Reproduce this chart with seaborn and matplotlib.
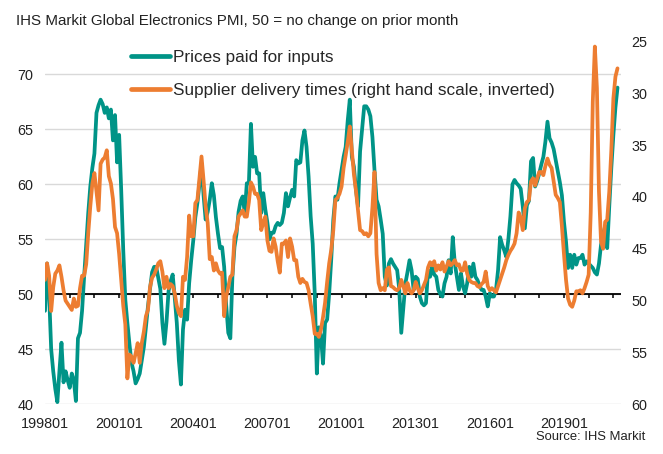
import numpy as np
import pandas as pd
import matplotlib
matplotlib.use("Agg")
import matplotlib.pyplot as plt
import seaborn as sns
from matplotlib.lines import Line2D

# monthly index readings, Jan 1998 .. Mar 2021
prices_paid = [
    48.5, 52.8, 50.0, 45.0, 43.0, 41.4, 40.2, 43.0, 45.6, 42.0, 43.0, 42.2,  # 1998
    41.5, 42.8, 42.2, 40.3, 46.0, 46.5, 48.5, 51.6, 54.5, 57.4, 59.8, 61.5,  # 1999
    62.8, 66.5, 67.2, 67.7, 67.3, 66.5, 67.0, 66.0, 66.8, 64.0, 66.3, 62.0,  # 2000
    64.5, 59.5, 54.0, 49.5, 47.4, 45.5, 43.8, 43.0, 41.9, 42.3, 42.8, 44.0,  # 2001
    45.2, 47.0, 48.9, 50.5, 52.0, 52.5, 52.5, 51.5, 50.5, 47.4, 45.5, 47.5,  # 2002
    50.3, 51.2, 51.8, 49.7, 47.4, 44.0, 41.8, 46.8, 48.6, 47.7, 51.0, 53.1,  # 2003
    54.9, 57.0, 58.3, 60.0, 61.9, 59.0, 56.8, 57.5, 58.6, 60.1, 59.0, 57.0,  # 2004
    55.5, 54.2, 54.3, 52.5, 49.0, 46.5, 46.0, 51.6, 54.3, 55.5, 57.5, 58.5,  # 2005
    58.9, 57.4, 60.1, 60.1, 65.5, 61.6, 62.5, 61.0, 61.0, 57.4, 59.2, 57.7,  # 2006
    56.5, 55.0, 55.6, 55.6, 56.2, 56.5, 56.3, 56.5, 57.4, 59.2, 58.0, 58.8,  # 2007
    59.5, 58.9, 62.2, 61.9, 62.0, 64.0, 64.9, 63.4, 60.7, 57.1, 54.6, 50.0,  # 2008
    42.8, 47.0, 46.2, 43.7, 47.4, 47.7, 50.1, 53.2, 56.8, 58.9, 58.6, 60.1,  # 2009
    61.3, 62.5, 63.4, 65.8, 67.7, 62.5, 61.6, 59.5, 58.0, 63.0, 65.1, 67.1,  # 2010
    67.1, 66.8, 66.2, 64.3, 61.3, 58.6, 58.0, 56.8, 55.5, 51.6, 50.8, 52.8,  # 2011
    53.2, 52.8, 52.5, 52.2, 50.5, 46.5, 48.8, 51.0, 52.0, 53.1, 52.2, 50.4,  # 2012
    51.6, 51.4, 49.8, 49.2, 49.0, 49.2, 52.2, 51.6, 52.5, 51.8, 51.6, 50.4,  # 2013
    50.0, 49.8, 51.0, 51.6, 53.1, 51.9, 55.2, 52.8, 51.6, 50.4, 51.9, 50.7,  # 2014
    50.1, 51.0, 52.5, 51.6, 52.8, 51.6, 51.3, 50.8, 50.4, 50.4, 49.8, 48.9,  # 2015
    50.1, 49.8, 49.8, 50.4, 52.2, 55.2, 54.5, 54.0, 53.4, 55.0, 57.1, 60.0,  # 2016
    60.4, 60.1, 59.9, 59.6, 58.0, 56.0, 58.1, 58.5, 62.1, 62.4, 59.8, 60.3,  # 2017
    61.0, 61.8, 62.5, 63.9, 65.7, 64.2, 63.8, 63.2, 62.2, 61.2, 60.2, 59.0,  # 2018
    56.6, 54.8, 52.4, 53.6, 52.4, 53.6, 52.7, 53.3, 53.3, 53.6, 52.7, 53.0,  # 2019
    52.8, 52.6, 52.4, 52.0, 51.8, 52.8, 54.5, 55.4, 56.2, 54.2, 58.0, 61.5,  # 2020
    64.5, 67.0, 68.8,                                                        # 2021
]

delivery_times = [
    48.0, 46.4, 47.6, 51.0, 48.7, 47.4, 47.1, 46.6, 47.7, 49.0, 50.0, 50.3,  # 1998
    50.6, 50.9, 49.8, 50.6, 50.5, 48.8, 47.6, 47.6, 46.5, 43.5, 40.9, 38.7,  # 1999
    37.7, 39.5, 41.3, 36.8, 36.4, 36.2, 35.5, 38.0, 38.7, 40.2, 42.9, 43.5,  # 2000
    45.5, 48.0, 50.5, 52.3, 57.5, 55.2, 55.4, 56.0, 55.1, 54.1, 56.0, 54.1,  # 2001
    53.0, 51.5, 50.9, 48.7, 47.8, 47.5, 47.0, 46.4, 46.2, 47.2, 48.8, 47.7,  # 2002
    48.8, 48.4, 48.6, 49.3, 50.5, 51.2, 51.5, 47.7, 48.0, 45.8, 41.8, 43.8,  # 2003
    43.8, 40.6, 40.3, 38.2, 36.1, 38.4, 40.9, 42.5, 46.0, 45.8, 47.1, 46.4,  # 2004
    47.1, 47.4, 47.3, 51.5, 49.6, 48.7, 47.7, 47.5, 43.8, 43.2, 41.9, 41.6,  # 2005
    41.3, 41.9, 41.9, 40.5, 38.6, 39.0, 39.7, 39.7, 40.3, 43.2, 42.5, 41.9,  # 2006
    44.2, 45.2, 45.3, 44.0, 44.8, 46.2, 47.3, 44.5, 44.5, 44.2, 45.8, 44.0,  # 2007
    44.8, 46.1, 46.1, 47.7, 48.3, 47.9, 48.2, 48.3, 49.0, 50.3, 51.5, 53.2,  # 2008
    53.2, 53.5, 52.8, 51.6, 50.2, 48.2, 46.4, 45.1, 43.2, 40.3, 40.1, 39.7,  # 2009
    39.0, 37.2, 36.0, 34.7, 33.2, 35.5, 37.8, 39.4, 41.3, 43.2, 43.3, 43.6,  # 2010
    43.5, 43.8, 43.5, 41.0, 37.6, 45.5, 48.3, 49.0, 48.8, 49.0, 47.0, 46.8,  # 2011
    48.6, 48.7, 48.9, 49.0, 48.8, 48.0, 48.6, 49.3, 48.3, 49.0, 49.3, 49.0,  # 2012
    48.2, 48.8, 49.3, 49.0, 48.5, 48.0, 46.8, 46.3, 46.6, 46.2, 47.1, 46.6,  # 2013
    47.0, 46.3, 47.2, 46.7, 46.2, 46.6, 46.4, 46.1, 46.6, 46.5, 47.1, 47.1,  # 2014
    46.3, 47.4, 48.0, 48.2, 48.3, 48.3, 48.6, 48.7, 48.4, 48.2, 47.2, 48.6,  # 2015
    49.0, 48.8, 49.0, 49.2, 48.6, 48.0, 47.4, 46.8, 46.1, 45.6, 45.2, 44.9,  # 2016
    44.5, 43.5, 41.5, 42.0, 43.2, 41.1, 40.5, 40.3, 38.5, 38.2, 38.9, 38.2,  # 2017
    37.6, 37.6, 37.9, 37.0, 36.3, 36.9, 37.2, 38.5, 39.8, 40.1, 40.5, 42.8,  # 2018
    45.5, 48.0, 49.8, 50.4, 50.6, 50.0, 49.1, 49.1, 49.0, 49.3, 48.8, 48.2,  # 2019
    47.5, 41.5, 30.8, 25.5, 29.5, 39.5, 44.3, 45.0, 42.4, 42.2, 39.5, 35.5,  # 2020
    30.5, 28.4, 27.6,                                                        # 2021
]

months = list(pd.date_range("1998-01-01", periods=len(prices_paid), freq="MS").strftime("%Y%m"))
tick_labels = ["199801", "200101", "200401", "200701", "201001", "201301", "201601", "201901"]
series_labels = ["Prices paid for inputs", "Supplier delivery times (right hand scale, inverted)"]

df = pd.DataFrame({"idx": np.arange(len(months)), "month": months,
                   "prices": prices_paid, "delivery": delivery_times})

sns.set_theme(style="white")
plt.rcParams["font.family"] = ["Liberation Sans", "DejaVu Sans"]

teal = "#009487"
orange = "#ED7D31"
W, H = 663, 454

fig = plt.figure(figsize=(W / 100, H / 100), dpi=100)
ax = fig.add_axes([45 / W, 1 - 404.3 / H, 576 / W, 362.9 / H])

# left axis: grid + zero-change line with yearly ticks
ax.set_xlim(0, 279.7)
ax.set_ylim(40, 73)
ax.set_yticks(range(40, 71, 5))
ax.yaxis.grid(True, color="#d9d9d9", lw=1)
ax.set_axisbelow(True)
for s in ax.spines.values():
    s.set_visible(False)
ax.axhline(50, color="black", lw=1.3, zorder=2)
ax.vlines(np.arange(12, len(months), 12), 49.7, 50, color="black", lw=1.1, zorder=2)

sns.lineplot(data=df, x="idx", y="prices", ax=ax, color=teal, lw=2.7, legend=False, zorder=3)

ax.set_xticks([months.index(t) for t in tick_labels])
ax.set_xticklabels(tick_labels)
ax.tick_params(axis="x", length=0, pad=9, labelsize=10.4, colors="#222222")
ax.tick_params(axis="y", length=0, pad=8.5, labelsize=10.4, colors="#222222")
ax.set_xlabel("")
ax.set_ylabel("")

# right axis, inverted
ax2 = ax.twinx()
sns.lineplot(data=df, x="idx", y="delivery", ax=ax2, color=orange, lw=2.7, legend=False)
ax2.set_ylim(60, 25)
ax2.set_yticks(range(25, 61, 5))
ax2.tick_params(axis="y", length=0, pad=7.5, labelsize=10.4, colors="#222222")
ax2.grid(False)
for s in ax2.spines.values():
    s.set_visible(False)
ax2.set_ylabel("")

handles = [Line2D([], [], color=teal, lw=3.4), Line2D([], [], color=orange, lw=3.4)]
fig.legend(handles, series_labels, loc="upper left", bbox_to_anchor=(131 / W, 1 - 50 / H),
           frameon=False, fontsize=12.3, handlelength=2.3, handletextpad=0.17,
           labelspacing=1.05, borderpad=0, borderaxespad=0)

fig.text(16 / W, 1 - 20.7 / H, "IHS Markit Global Electronics PMI, 50 = no change on prior month",
         ha="left", va="center", fontsize=10.9, color="#222222")
fig.text(645 / W, 1 - 436.7 / H, "Source: IHS Markit", ha="right", va="center",
         fontsize=9.4, color="#222222")

fig.savefig("out.png", dpi=100)
